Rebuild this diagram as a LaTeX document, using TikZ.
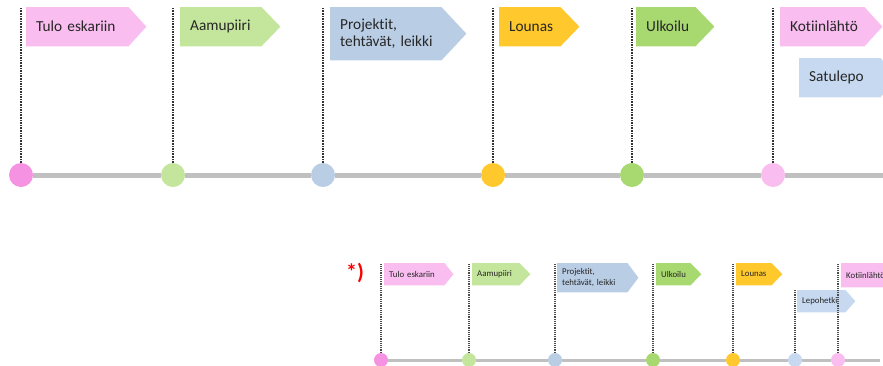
\documentclass[tikz,border=0pt]{standalone}
\usepackage{fontspec}
\setmainfont{Carlito}[Ligatures={NoCommon}]
\pgfdeclarelayer{bg}
\pgfsetlayers{bg,main}
\definecolor{pinkA}{HTML}{F592E2}
\definecolor{pinkF}{HTML}{F9BDEF}
\definecolor{greenL}{HTML}{C4E59C}
\definecolor{blueP}{HTML}{B9CDE5}
\definecolor{yellowL}{HTML}{FFC82C}
\definecolor{greenU}{HTML}{A8D870}
\definecolor{blueS}{HTML}{C6D9F1}
\definecolor{lineG}{HTML}{C0C0C0}
\newcommand\flagfill[3]{% node, colour, tip length
  \begin{pgfonlayer}{bg}
    \fill[#2] (#1.north west) -- (#1.north east) -- ([xshift=#3pt]#1.east) -- (#1.south east) -- (#1.south west) -- cycle;
  \end{pgfonlayer}}
\begin{document}
\begin{tikzpicture}[x=1pt,y=-1pt,
  flagT/.style={anchor=north west, inner xsep=10pt, inner ysep=0pt, minimum height=39pt, align=left,
    font=\fontsize{15.3}{17}\selectfont, text=black!85},
  flagS/.style={anchor=north west, inner xsep=5pt, inner ysep=0pt, minimum height=22pt, align=left,
    font=\fontsize{8.8}{10.5}\selectfont, text=black!85},
  dotT/.style={densely dotted, line width=1.6pt, black!80},
  dotS/.style={densely dotted, line width=1.2pt, black!70},
  dotc/.style={circle, inner sep=0pt, minimum size=24pt, fill=#1},
  dots/.style={circle, inner sep=0pt, minimum size=14pt, fill=#1},
  tlT/.style={lineG, line width=5pt},
  tlS/.style={lineG, line width=3pt}]
\useasboundingbox (0,0) rectangle (883,365);
\clip (0,0) rectangle (883,365);

% ---------- top timeline ----------
\node[dotc=pinkA]  (c1) at (21,175) {};
\node[dotc=greenL] (c2) at (173,175) {};
\node[dotc=blueP]  (c3) at (323,175) {};
\node[dotc=yellowL](c4) at (493,175) {};
\node[dotc=greenU] (c5) at (632,175) {};
\node[dotc=pinkF]  (c6) at (773,175) {};
\coordinate (cend) at (883,175);
\draw[tlT] (c1) -- (c2);
\draw[tlT] (c2) -- (c3);
\draw[tlT] (c3) -- (c4);
\draw[tlT] (c4) -- (c5);
\draw[tlT] (c5) -- (c6);
\draw[tlT] (c6) -- (cend);

\node[flagT, text width=82pt] (t1) at (26,7) {Tulo eskariin};
\node[flagT, text width=61pt] (t2) at (180,7) {Aamupiiri};
\node[flagT, text width=91pt, minimum height=53pt] (t3) at (330,7) {\mbox{Projektit,}\\\mbox{tehtävät, leikki}};
\node[flagT, text width=41pt] (t4) at (499,7) {Lounas};
\node[flagT, text width=39pt] (t5) at (636,7) {Ulkoilu};
\node[flagT, text width=64pt] (t6) at (780,7) {Kotiinlähtö};
\node[flagT, text width=61pt] (t7) at (799,58) {Satulepo};
\flagfill{t1}{pinkF}{18}
\flagfill{t2}{greenL}{19}
\flagfill{t3}{blueP}{25}
\flagfill{t4}{yellowL}{19}
\flagfill{t5}{greenU}{19}
\flagfill{t6}{pinkF}{18}
\flagfill{t7}{blueS}{18}

\draw[dotT] (c1.north) -- (c1 |- t1.north);
\draw[dotT] (c2.north) -- (c2 |- t2.north);
\draw[dotT] (c3.north) -- (c3 |- t3.north);
\draw[dotT] (c4.north) -- (c4 |- t4.north);
\draw[dotT] (c5.north) -- (c5 |- t5.north);
\draw[dotT] (c6.north) -- (c6 |- t6.north);

% ---------- bottom timeline ----------
\node[text=red, font=\fontsize{22}{22}\selectfont\bfseries, inner sep=0pt] (note) at (355,273) {*)};

\node[dots=pinkA]  (d1) at (381,360) {};
\node[dots=greenL] (d2) at (469,360) {};
\node[dots=blueP]  (d3) at (555,360) {};
\node[dots=greenU] (d4) at (653,360) {};
\node[dots=yellowL](d5) at (733,360) {};
\node[dots=blueS]  (d6) at (795,360) {};
\node[dots=pinkF]  (d7) at (838,360) {};
\coordinate (dend) at (880,360);
\draw[tlS] (d1) -- (d2);
\draw[tlS] (d2) -- (d3);
\draw[tlS] (d3) -- (d4);
\draw[tlS] (d4) -- (d5);
\draw[tlS] (d5) -- (d6);
\draw[tlS] (d6) -- (d7);
\draw[tlS] (d7) -- (dend);

\node[flagS, text width=50pt] (s1) at (384,263) {Tulo eskariin};
\node[flagS, text width=37pt] (s2) at (472,263) {Aamupiiri};
\node[flagS, text width=60pt, minimum height=29pt] (s3) at (557,263) {\mbox{Projektit,}\\\mbox{tehtävät, leikki}};
\node[flagS, text width=24pt] (s4) at (656,263) {Ulkoilu};
\node[flagS, text width=25pt] (s5) at (736,263) {Lounas};
\node[flagS, text width=38pt] (s6) at (797,290) {Lepohetki};
\node[flagS, text width=50pt, minimum height=24pt] (s7) at (841,263) {Kotiinlähtö};
\flagfill{s1}{pinkF}{9}
\flagfill{s2}{greenL}{11}
\flagfill{s3}{blueP}{11}
\flagfill{s4}{greenU}{11}
\flagfill{s5}{yellowL}{11}
\flagfill{s6}{blueS}{10}
\flagfill{s7}{pinkF}{10}

\draw[dotS] (d1.north) -- (d1 |- s1.north);
\draw[dotS] (d2.north) -- (d2 |- s2.north);
\draw[dotS] (d3.north) -- (d3 |- s3.north);
\draw[dotS] (d4.north) -- (d4 |- s4.north);
\draw[dotS] (d5.north) -- (d5 |- s5.north);
\draw[dotS] (d6.north) -- (d6 |- s6.north);
\draw[dotS] (d7.north) -- (d7 |- s7.north);
\end{tikzpicture}
\end{document}
